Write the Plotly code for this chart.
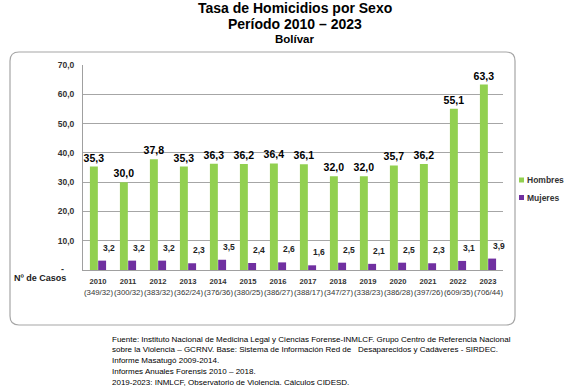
import plotly.graph_objects as go

years = ["2010", "2011", "2012", "2013", "2014", "2015", "2016", "2017", "2018", "2019", "2020", "2021", "2022", "2023"]
casos = ["(349/32)", "(300/32)", "(383/32)", "(362/24)", "(376/36)", "(380/25)", "(386/27)", "(388/17)",
         "(347/27)", "(338/23)", "(386/28)", "(397/26)", "(609/35)", "(706/44)"]
hombres = [35.3, 30.0, 37.8, 35.3, 36.3, 36.2, 36.4, 36.1, 32.0, 32.0, 35.7, 36.2, 55.1, 63.3]
mujeres = [3.2, 3.2, 3.2, 2.3, 3.5, 2.4, 2.6, 1.6, 2.5, 2.1, 2.5, 2.3, 3.1, 3.9]
series_names = ["Hombres", "Mujeres"]
y_ticks = [0, 10, 20, 30, 40, 50, 60, 70]

W, H = 579, 389
# plot area in pixels
L, R, T, B = 83, 503, 65, 270


def px(x):
    return (x - L) / (R - L)


def py(y):
    return (B - y) / (B - T)


def fmt(v):
    return f"{v:.1f}".replace(".", ",")


FONT = "Liberation Sans"
GREEN = "#92D050"
PURPLE = "#7030A0"
colors = [GREEN, PURPLE]

xs = list(range(len(years)))

fig = go.Figure()
fig.add_trace(go.Bar(
    x=xs, y=hombres, name=series_names[0], marker=dict(color=GREEN, line=dict(width=0)),
    text=[fmt(v) for v in hombres], textposition="outside", cliponaxis=False,
    constraintext="none", showlegend=False,
    textfont=dict(family=FONT, size=10.5, color="black", weight="bold"),
))
fig.add_trace(go.Bar(
    x=xs, y=mujeres, name=series_names[1], marker=dict(color=PURPLE, line=dict(width=0)),
    showlegend=False,
))

annotations = []
shapes = []
for i, v in enumerate(mujeres):
    annotations.append(dict(
        x=i, y=v, xref="x", yref="y", text=fmt(v), showarrow=False,
        xshift=11, yshift=13, font=dict(family=FONT, size=8.5, color="#222222", weight="bold"),
    ))

# count row below years
for i, c in enumerate(casos):
    annotations.append(dict(x=i, y=py(292), xref="x", yref="paper", text=c, showarrow=False,
                            xanchor="center", yanchor="middle",
                            font=dict(family=FONT, size=7.8, color="#333333")))

annotations.append(dict(x=px(12), y=py(278), xref="paper", yref="paper", xanchor="left", yanchor="middle",
                        text="<b>Nº de Casos</b>", showarrow=False,
                        font=dict(family=FONT, size=9, color="#222222")))
annotations.append(dict(x=px(62), y=py(269), xref="paper", yref="paper", xanchor="center", yanchor="middle",
                        text="<b>-</b>", showarrow=False, font=dict(family=FONT, size=9, color="#333333")))

# legend drawn as small squares + labels
for k, (nm, col) in enumerate(zip(series_names, colors)):
    yc = 180 + k * 17.5
    shapes.append(dict(type="rect", xref="paper", yref="paper",
                       x0=px(519), x1=px(524), y0=py(yc + 2.5), y1=py(yc - 2.5),
                       fillcolor=col, line=dict(width=0)))
    annotations.append(dict(x=px(525), y=py(yc), xref="paper", yref="paper", xanchor="left",
                            yanchor="middle", text=f"<b>{nm}</b>", showarrow=False,
                            font=dict(family=FONT, size=8.5, color="#333333")))

title_lines = [
    ("Tasa de Homicidios por Sexo", 14, 8),
    ("Período 2010 – 2023", 14, 24),
    ("Bolívar", 11.5, 39.5),
]
for txt, size, ypix in title_lines:
    annotations.append(dict(x=px(295), y=py(ypix), xref="paper", yref="paper", xanchor="center", yanchor="middle",
                            text=f"<b>{txt}</b>", showarrow=False,
                            font=dict(family=FONT, size=size, color="black")))

footer = [
    "Fuente: Instituto Nacional de Medicina Legal y Ciencias Forense-INMLCF. Grupo Centro de Referencia Nacional",
    "sobre la Violencia – GCRNV. Base: Sistema de Información Red de \u00a0\u00a0Desaparecidos y Cadáveres - SIRDEC.",
    "Informe Masatugó 2009-2014.",
    "Informes Anuales Forensis 2010 – 2018.",
    "2019-2023: INMLCF, Observatorio de Violencia. Cálculos CIDESD.",
]
for k, line in enumerate(footer):
    annotations.append(dict(x=px(110), y=py(339 + k * 10.8), xref="paper", yref="paper", xanchor="left",
                            yanchor="middle", text=line, showarrow=False,
                            font=dict(family=FONT, size=8.0, color="black")))

# rounded border box
x0, y0, x1, y1, r = 10, 52, 515, 325, 9
path = (f"M {px(x0 + r)} {py(y0)} L {px(x1 - r)} {py(y0)} "
        f"Q {px(x1)} {py(y0)} {px(x1)} {py(y0 + r)} L {px(x1)} {py(y1 - r)} "
        f"Q {px(x1)} {py(y1)} {px(x1 - r)} {py(y1)} L {px(x0 + r)} {py(y1)} "
        f"Q {px(x0)} {py(y1)} {px(x0)} {py(y1 - r)} L {px(x0)} {py(y0 + r)} "
        f"Q {px(x0)} {py(y0)} {px(x0 + r)} {py(y0)} Z")
shapes.append(dict(type="path", path=path, xref="paper", yref="paper",
                   line=dict(color="#A6A6A6", width=1.2), layer="below"))

fig.update_layout(
    width=W, height=H,
    margin=dict(l=L, r=W - R, t=T, b=H - B, autoexpand=False),
    paper_bgcolor="white", plot_bgcolor="white",
    barmode="group", bargap=0.45, bargroupgap=0.04,
    font=dict(family=FONT),
    showlegend=False,
    annotations=annotations,
    shapes=shapes,
    xaxis=dict(
        range=[-0.5, len(years) - 0.5],
        tickmode="array", tickvals=xs, tickangle=0, automargin=False,
        ticktext=[f"<b>{y}</b>" for y in years],
        tickfont=dict(family=FONT, size=7.6, color="#333333"),
        showline=True, linecolor="#A0A0A0", linewidth=1,
        ticks="", showgrid=False, zeroline=False, ticklabelstandoff=4,
    ),
    yaxis=dict(
        range=[0, 70], automargin=False,
        tickmode="array", tickvals=y_ticks,
        ticktext=["" if v == 0 else f"<b>{fmt(v)}</b>" for v in y_ticks],
        tickfont=dict(family=FONT, size=8.5, color="#333333"),
        showline=True, linecolor="#A0A0A0", linewidth=1,
        showgrid=True, gridcolor="#A6A6A6", gridwidth=1,
        ticks="", ticklabelstandoff=6, zeroline=False,
    ),
)

fig.write_html("out.html", config={"displayModeBar": False},
               post_script="document.body.style.margin='0px';")
